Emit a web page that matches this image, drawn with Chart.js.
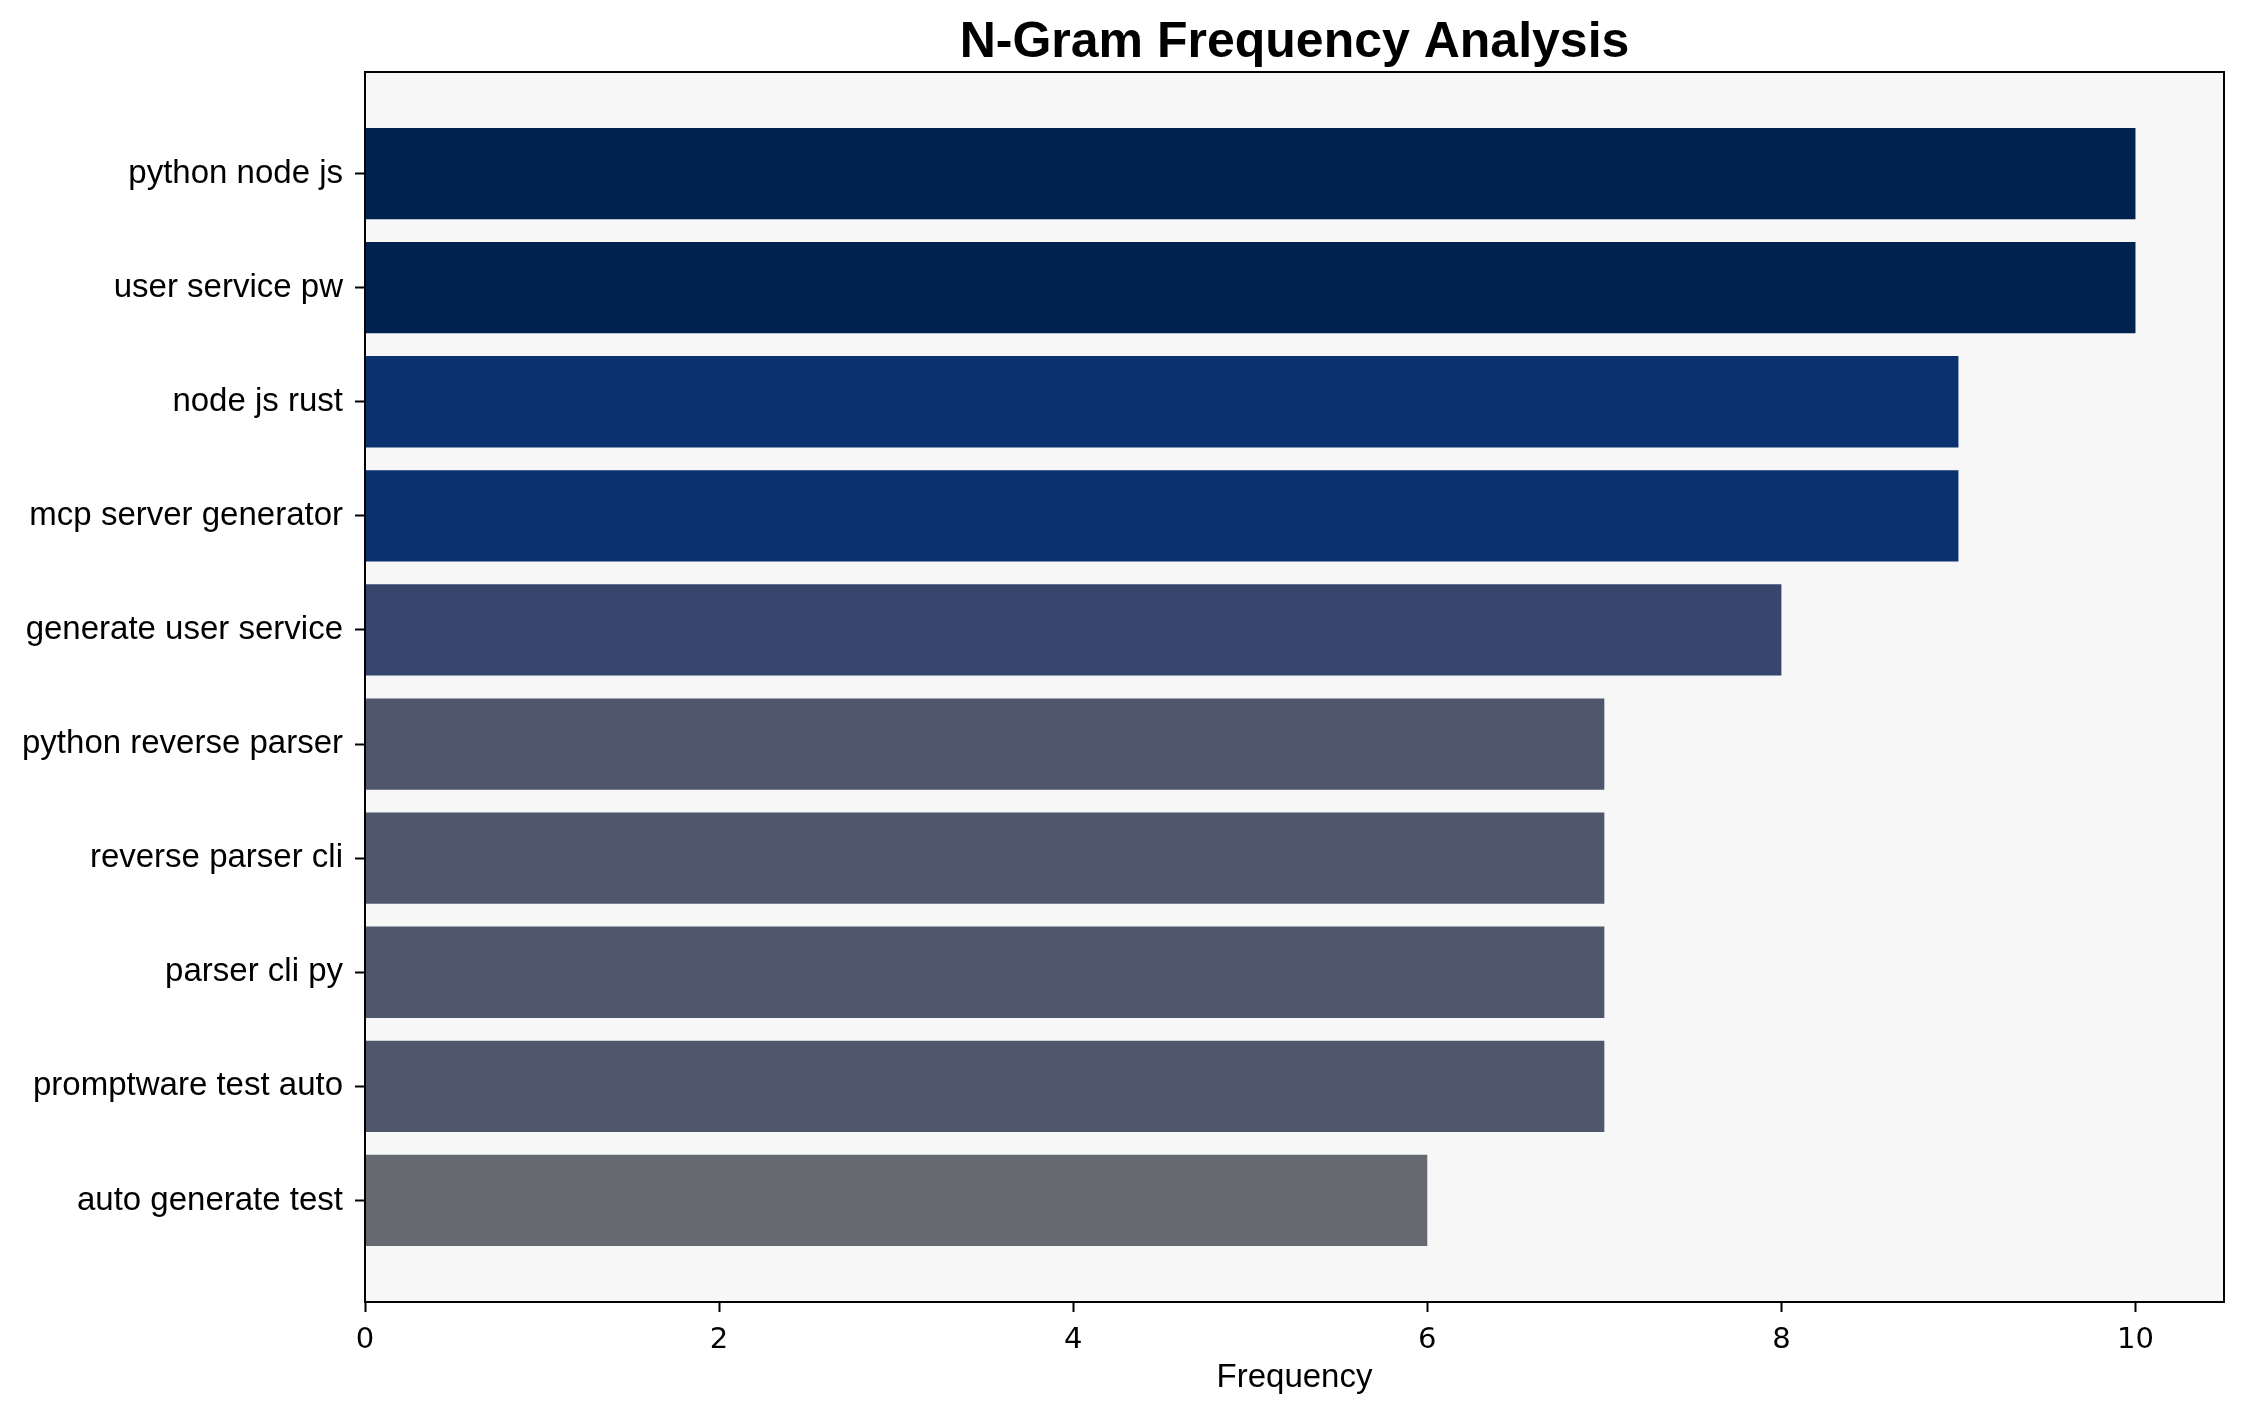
<!DOCTYPE html>
<html lang="en">

<head>
    <meta charset="UTF-8">
    <title>N-Gram Frequency Analysis</title>
    <script src="https://cdn.jsdelivr.net/npm/chart.js"></script>
    <style>
        html, body { margin: 0; padding: 0; background: #ffffff; }
        #wrap { width: 2244px; height: 1414px; }
    </style>
</head>

<body>
    <div id="wrap">
        <canvas id="ngramChart" width="2244" height="1414"></canvas>
    </div>

    <script>
        // data
        const ngrams = [
            'python node js',
            'user service pw',
            'node js rust',
            'mcp server generator',
            'generate user service',
            'python reverse parser',
            'reverse parser cli',
            'parser cli py',
            'promptware test auto',
            'auto generate test'
        ];
        const frequencies = [10, 10, 9, 9, 8, 7, 7, 7, 7, 6];
        const xTickValues = [0, 2, 4, 6, 8, 10];
        const chartTitle = 'N-Gram Frequency Analysis';

        // cividis-like shades, darker for higher counts
        const barColors = [
            '#00224e', '#00224e', '#0a326e', '#0a326e', '#35456c',
            '#4f576c', '#4f576c', '#4f576c', '#4f576c', '#666970'
        ];

        const labelFont = "'Liberation Sans', Arial, sans-serif";

        // light panel behind the bars, black frame round it,
        // and the title centred over the plot area (not the whole canvas)
        const framePlugin = {
            id: 'frame',
            beforeDraw(chart) {
                const { ctx, chartArea: a } = chart;
                ctx.save();
                ctx.fillStyle = '#f7f7f7';
                ctx.fillRect(a.left, a.top, a.right - a.left, a.bottom - a.top);
                ctx.restore();
            },
            afterDraw(chart) {
                const { ctx, chartArea: a } = chart;
                ctx.save();
                ctx.strokeStyle = '#000000';
                ctx.lineWidth = 2;
                ctx.strokeRect(a.left, a.top, a.right - a.left, a.bottom - a.top);

                ctx.fillStyle = '#000000';
                ctx.font = 'bold 50px ' + labelFont;
                ctx.textAlign = 'center';
                ctx.textBaseline = 'alphabetic';
                ctx.fillText(chartTitle, (a.left + a.right) / 2, 57);
                ctx.restore();
            }
        };

        const points = frequencies.map((f, i) => ({ x: f, y: i }));

        new Chart(document.getElementById('ngramChart'), {
            type: 'bar',
            data: {
                datasets: [{
                    label: 'Frequency',
                    data: points,
                    backgroundColor: barColors,
                    borderWidth: 0,
                    barPercentage: 0.8,
                    categoryPercentage: 1.0
                }]
            },
            options: {
                indexAxis: 'y',
                responsive: false,
                animation: false,
                devicePixelRatio: 1,
                layout: { padding: { left: 0, right: 20, top: 72, bottom: 0 } },
                plugins: {
                    legend: { display: false },
                    tooltip: { enabled: false },
                    title: { display: false }
                },
                scales: {
                    x: {
                        type: 'linear',
                        min: 0,
                        max: 10.5,
                        offset: false,
                        afterBuildTicks: (axis) => {
                            axis.ticks = xTickValues.map(v => ({ value: v }));
                        },
                        afterFit: (axis) => { axis.height = 112; },
                        ticks: {
                            color: '#000000',
                            font: { family: "'DejaVu Sans', sans-serif", size: 29 },
                            padding: 11
                        },
                        grid: {
                            offset: false,
                            drawOnChartArea: false,
                            drawTicks: true,
                            tickLength: 10,
                            tickWidth: 2,
                            tickColor: '#000000'
                        },
                        border: { display: true, color: '#000000', width: 2 },
                        title: {
                            display: true,
                            text: 'Frequency',
                            color: '#000000',
                            font: { family: labelFont, size: 33 },
                            padding: { top: 4, bottom: 16 }
                        }
                    },
                    y: {
                        type: 'linear',
                        reverse: true,
                        offset: false,
                        min: -0.89,
                        max: ngrams.length - 1 + 0.89,
                        afterBuildTicks: (axis) => {
                            axis.ticks = ngrams.map((n, i) => ({ value: i }));
                        },
                        afterFit: (axis) => { axis.width = 365; },
                        ticks: {
                            color: '#000000',
                            font: { family: labelFont, size: 33 },
                            padding: 12,
                            callback: (value) => ngrams[value]
                        },
                        grid: {
                            offset: false,
                            drawOnChartArea: false,
                            drawTicks: true,
                            tickLength: 10,
                            tickWidth: 2,
                            tickColor: '#000000'
                        },
                        border: { display: true, color: '#000000', width: 2 }
                    }
                }
            },
            plugins: [framePlugin]
        });
    </script>
</body>

</html>
